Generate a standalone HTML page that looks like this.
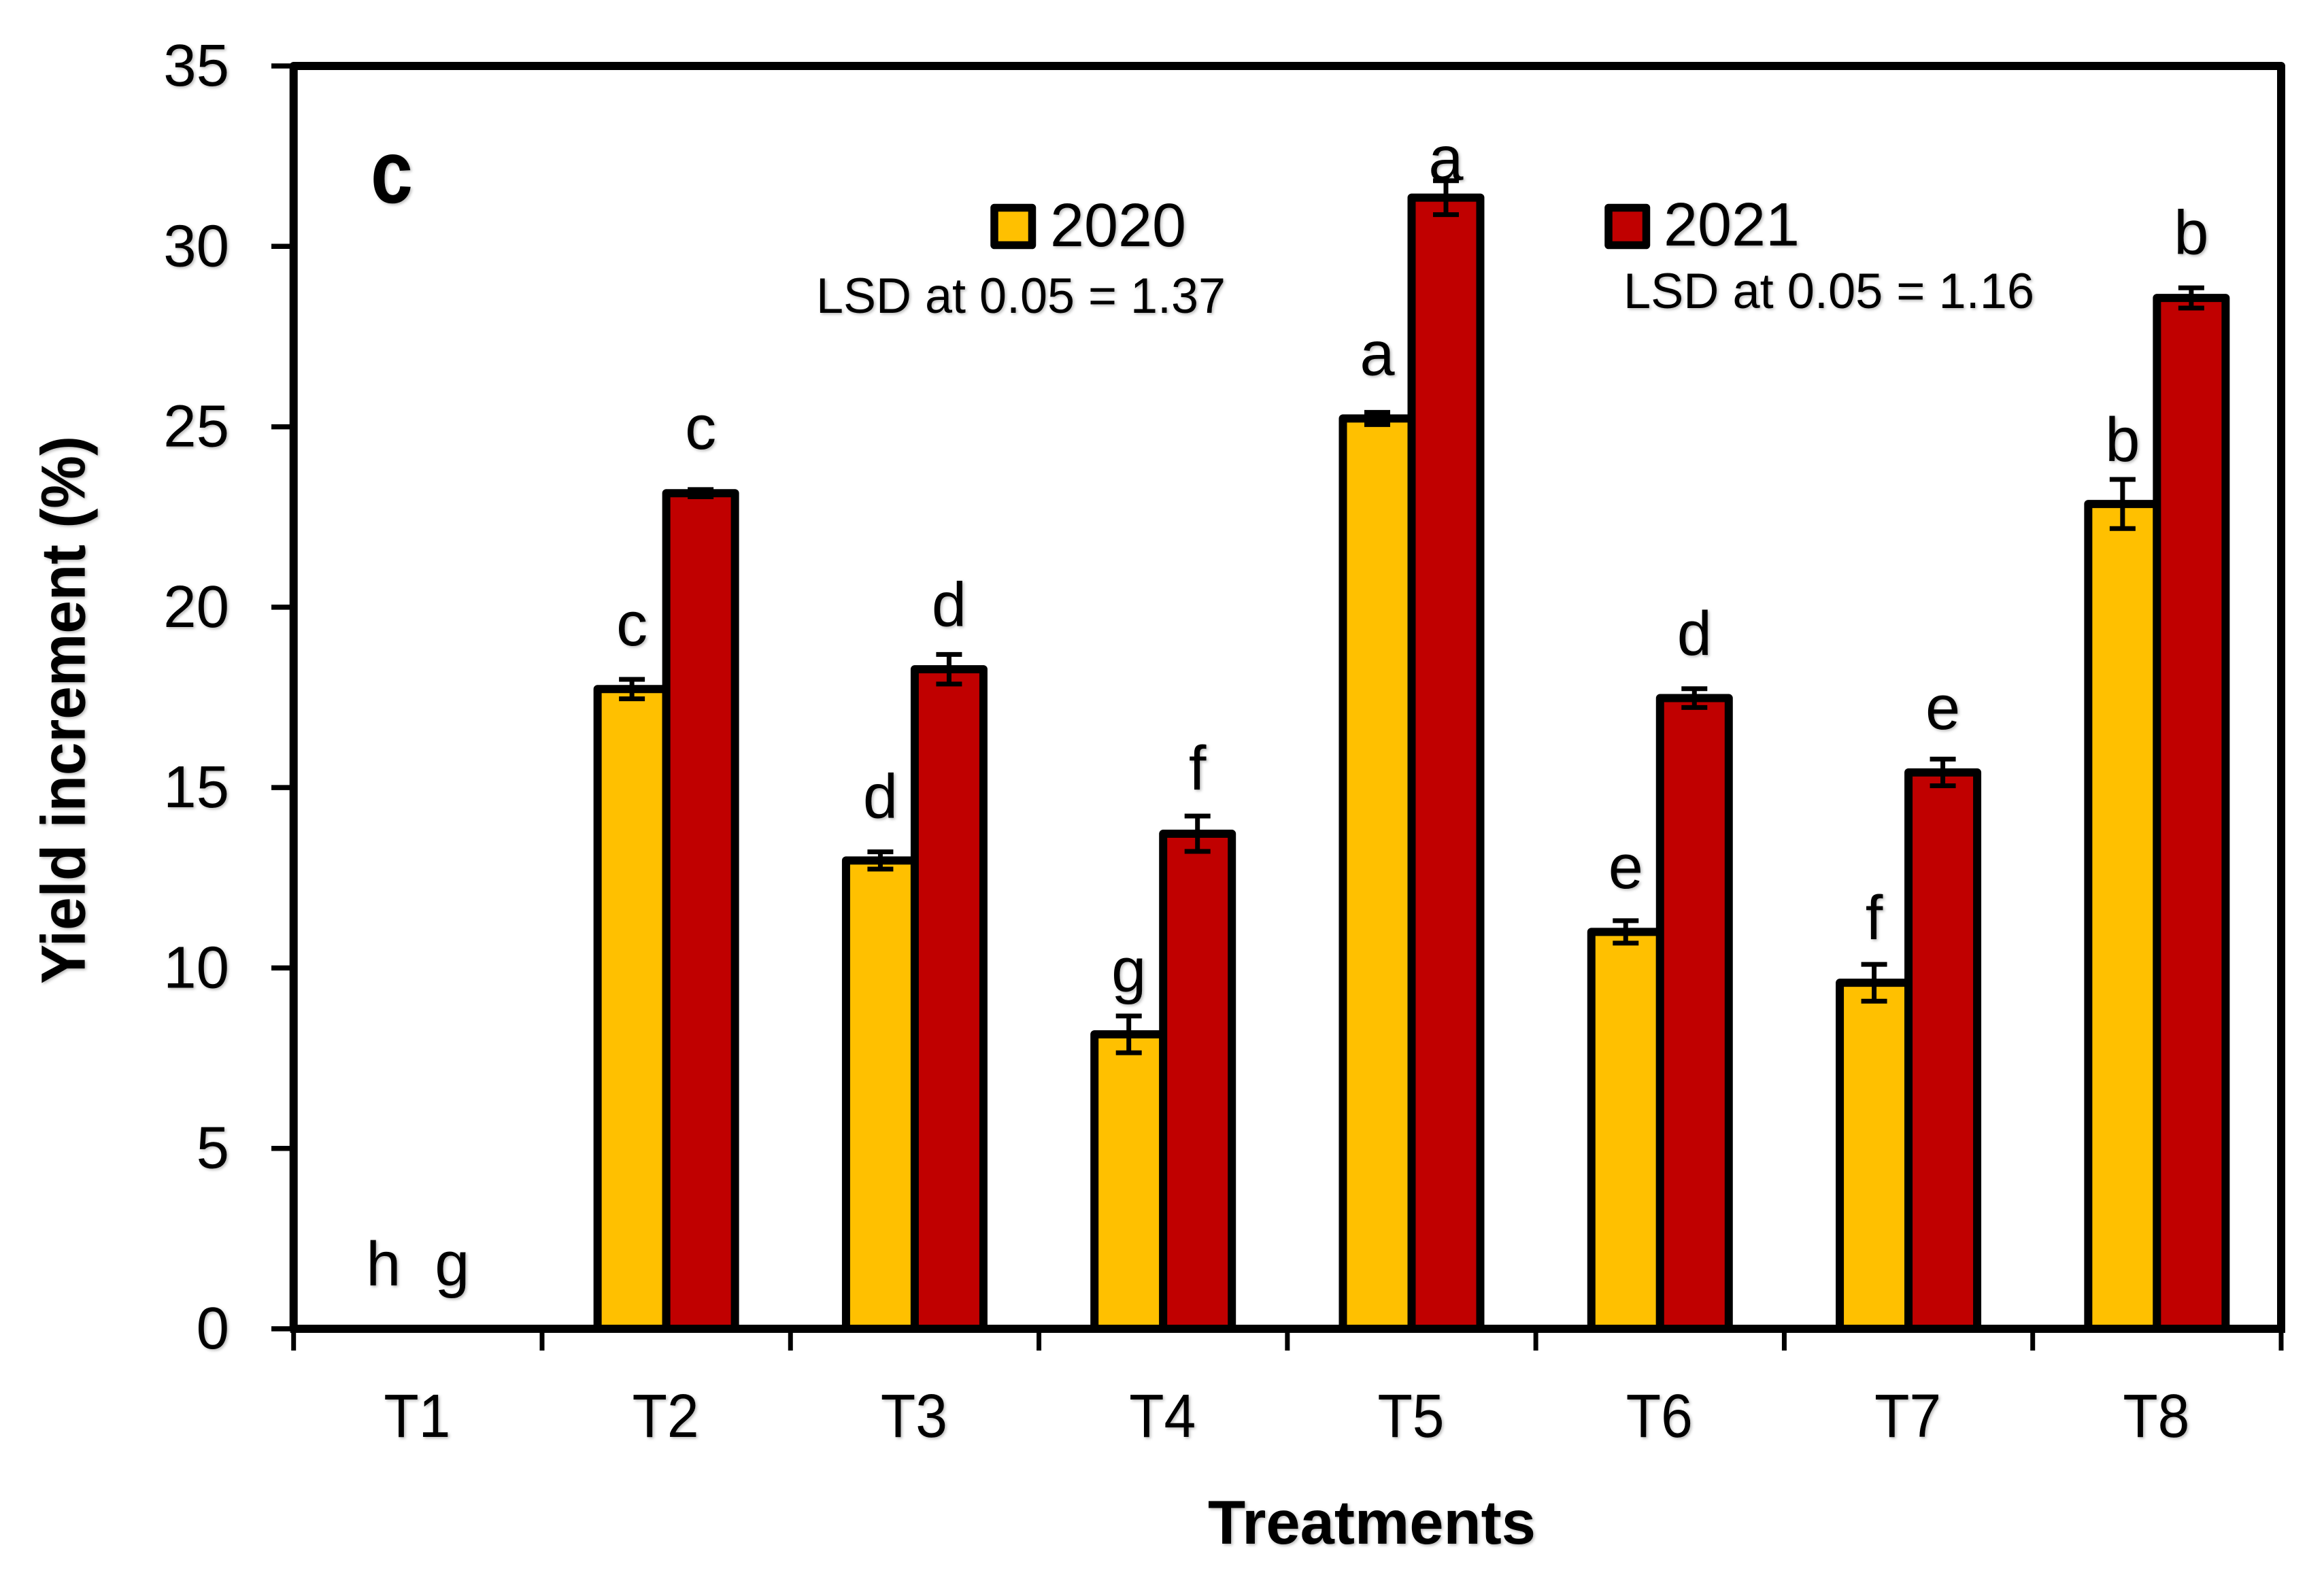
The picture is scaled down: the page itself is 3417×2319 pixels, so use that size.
<!DOCTYPE html>
<html lang="en">
<head>
<meta charset="utf-8">
<title>Yield increment by treatment</title>
<style>
  html, body { margin: 0; padding: 0; background: #fff; }
  svg { display: block; }
  text { font-family: "Liberation Sans", sans-serif; fill: #000; }
  .shadow { filter: drop-shadow(2px 2px 2px rgba(0,0,0,0.28)); }
</style>
</head>
<body>
<svg id="chart" xmlns="http://www.w3.org/2000/svg" width="3417" height="2319" viewBox="0 0 3417 2319">
  <rect x="0" y="0" width="3417" height="2319" fill="#ffffff"/>
  <g id="bars"></g>
  <g id="errors"></g>
  <g id="axes"></g>
  <g id="labels" class="shadow"></g>

  <g class="shadow">
    <text x="576" y="298" font-size="132" font-weight="700" text-anchor="middle" textLength="62" lengthAdjust="spacingAndGlyphs">c</text>
    <text transform="translate(124.6,1447) rotate(-90)" font-size="92" font-weight="700" textLength="806" lengthAdjust="spacingAndGlyphs">Yield increment (%)</text>
    <text x="1776" y="2270" font-size="91" font-weight="700" textLength="482" lengthAdjust="spacingAndGlyphs">Treatments</text>
    <text x="1544" y="362" font-size="90" textLength="200" lengthAdjust="spacingAndGlyphs">2020</text>
    <text x="2446" y="361" font-size="90" textLength="200" lengthAdjust="spacingAndGlyphs">2021</text>
    <text x="1200" y="460" font-size="73" textLength="602" lengthAdjust="spacingAndGlyphs">LSD at 0.05 = 1.37</text>
    <text x="2387" y="453" font-size="73" textLength="604" lengthAdjust="spacingAndGlyphs">LSD at 0.05 = 1.16</text>
  </g>
  <rect x="1462" y="305.5" width="55.5" height="55" fill="#FFC000" stroke="#000" stroke-width="11.5" stroke-linejoin="round"/>
  <rect x="2365" y="305.5" width="55.5" height="55" fill="#C00000" stroke="#000" stroke-width="11.5" stroke-linejoin="round"/>
</svg>

<script>
const categories = ["T1", "T2", "T3", "T4", "T5", "T6", "T7", "T8"];
const values2020 = [0, 17.73, 12.98, 8.16, 25.23, 11.0, 9.59, 22.86];
const values2021 = [0, 23.16, 18.28, 13.72, 31.35, 17.48, 15.42, 28.57];
const errors2020 = [0, 0.27, 0.24, 0.51, 0.17, 0.31, 0.51, 0.68];
const errors2021 = [0, 0.10, 0.41, 0.49, 0.47, 0.26, 0.37, 0.28];
const letters2020 = ["h", "c", "d", "g", "a", "e", "f", "b"];
const letters2021 = ["g", "c", "d", "f", "a", "d", "e", "b"];
const yTicks = [0, 5, 10, 15, 20, 25, 30, 35];

const plot = { left: 431.7, right: 3354, top: 97, bottom: 1954 };
const yMax = 35;
const barWidth = 101;
const capHalf = 19;
const letterLayout = {
  lift2020: [64, 50, 50, 36, 55, 48, 37, 27],
  lift2021: [64, 60, 42, 39, 1, 50, 44, 50]
};

const SVGNS = "http://www.w3.org/2000/svg";
const bandWidth = (plot.right - plot.left) / categories.length;
function yScale(v) { return plot.bottom - (v / yMax) * (plot.bottom - plot.top); }
function bandCenter(i) { return plot.left + bandWidth * (i + 0.5); }
function make(tag, parent) {
  const node = document.createElementNS(SVGNS, tag);
  parent.appendChild(node);
  return node;
}
function setAll(node, attrs) {
  Object.keys(attrs).forEach(function (k) { node.setAttribute(k, attrs[k]); });
}

const barsLayer = document.getElementById("bars");
const errorsLayer = document.getElementById("errors");
const axesLayer = document.getElementById("axes");
const labelsLayer = document.getElementById("labels");

function drawSeries(year, vals, errs, letters, lifts, fill, dir) {
  categories.forEach(function (cat, i) {
    const cx = bandCenter(i);
    const x = dir < 0 ? cx - barWidth : cx;
    const mid = x + barWidth / 2;
    const top = yScale(vals[i]);

    const bar = make("rect", barsLayer);
    
    
    setAll(bar, { x: x, y: top, width: barWidth, height: plot.bottom - top, fill: fill, stroke: "#000", "stroke-width": 12, "stroke-linejoin": "round" });

    const hi = yScale(vals[i] + errs[i]);
    const lo = yScale(vals[i] - errs[i]);
    const err = make("path", errorsLayer);
    
    
    setAll(err, {
      d: "M" + (mid - capHalf) + " " + hi + "H" + (mid + capHalf) +
         "M" + mid + " " + hi + "V" + lo +
         "M" + (mid - capHalf) + " " + lo + "H" + (mid + capHalf),
      fill: "none", stroke: "#000", "stroke-width": 7
    });

    const letter = make("text", labelsLayer);
    
    
    setAll(letter, { x: mid, y: hi - lifts[i], "font-size": 92, "text-anchor": "middle" });
    letter.textContent = letters[i];
  });
}
drawSeries("2020", values2020, errors2020, letters2020, letterLayout.lift2020, "#FFC000", -1);
drawSeries("2021", values2021, errors2021, letters2021, letterLayout.lift2021, "#C00000", 1);

const frameSides = make("path", axesLayer);


setAll(frameSides, {
  d: "M" + plot.left + " " + plot.bottom + "V" + plot.top + "H" + plot.right + "V" + plot.bottom,
  fill: "none", stroke: "#000", "stroke-width": 12, "stroke-linejoin": "round"
});

const xAxisLine = make("line", axesLayer);


setAll(xAxisLine, { x1: plot.left - 5, x2: plot.right + 6, y1: plot.bottom, y2: plot.bottom, stroke: "#000", "stroke-width": 12 });

yTicks.forEach(function (t) {
  const y = yScale(t);
  const tick = make("line", axesLayer);
  
  
  setAll(tick, { x1: 399, x2: plot.left, y1: y, y2: y, stroke: "#000", "stroke-width": 7.5 });

  const label = make("text", labelsLayer);
  
  
  setAll(label, { x: 337, y: y + 29, "font-size": 87, "text-anchor": "end" });
  label.textContent = String(t);
});

for (let i = 0; i <= categories.length; i++) {
  const x = plot.left + bandWidth * i;
  const tick = make("line", axesLayer);
  
  
  setAll(tick, { x1: x, x2: x, y1: plot.bottom, y2: 1986, stroke: "#000", "stroke-width": 7 });
}

categories.forEach(function (cat, i) {
  const label = make("text", labelsLayer);
  
  
  setAll(label, { x: bandCenter(i) - 1, y: 2113, "font-size": 90, "text-anchor": "middle", textLength: 98, lengthAdjust: "spacingAndGlyphs" });
  label.textContent = cat;
});
</script>
</body>
</html>
